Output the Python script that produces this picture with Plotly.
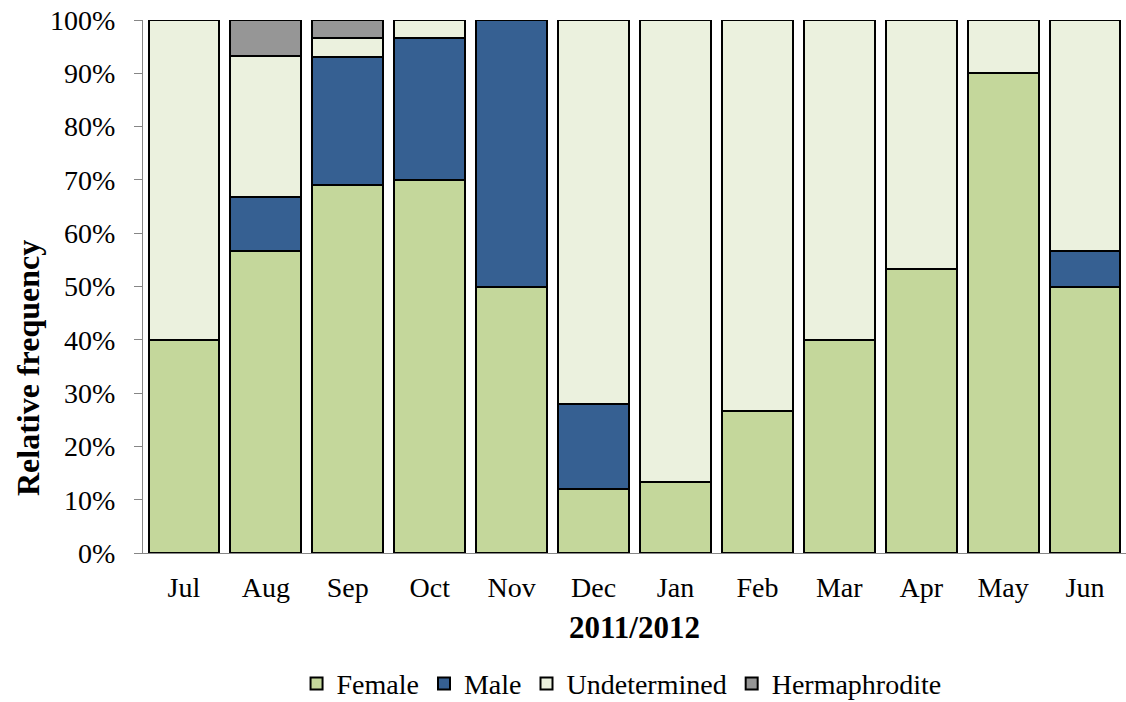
import plotly.graph_objects as go

months = ["Jul", "Aug", "Sep", "Oct", "Nov", "Dec", "Jan", "Feb", "Mar", "Apr", "May", "Jun"]
female = [40.0, 56.7, 69.0, 70.0, 50.0, 12.0, 13.3, 26.7, 40.0, 53.3, 90.0, 50.0]
male = [0.0, 10.0, 24.1, 26.7, 50.0, 16.0, 0.0, 0.0, 0.0, 0.0, 0.0, 6.7]
undetermined = [60.0, 26.6, 3.5, 3.3, 0.0, 72.0, 86.7, 73.3, 60.0, 46.7, 10.0, 43.3]
hermaphrodite = [0.0, 6.7, 3.4, 0.0, 0.0, 0.0, 0.0, 0.0, 0.0, 0.0, 0.0, 0.0]

ytick_vals = [0, 10, 20, 30, 40, 50, 60, 70, 80, 90, 100]
ytick_text = ["0%", "10%", "20%", "30%", "40%", "50%", "60%", "70%", "80%", "90%", "100%"]

series = [
    ("Female", female, "#C4D79B"),
    ("Male", male, "#366092"),
    ("Undetermined", undetermined, "#EBF1DE"),
    ("Hermaphrodite", hermaphrodite, "#969696"),
]

serif = "Liberation Serif"

fig = go.Figure()
for name, vals, color in series:
    fig.add_trace(go.Bar(
        name=name,
        x=months,
        y=vals,
        marker=dict(color=color, line=dict(color="black", width=2)),
    ))

fig.update_layout(
    barmode="stack",
    bargap=0.135,
    width=1126,
    height=702,
    margin=dict(l=143, r=0, t=20, b=149, autoexpand=False),
    paper_bgcolor="white",
    plot_bgcolor="white",
    font=dict(family=serif, size=28, color="black"),
    showlegend=True,
    legend=dict(
        orientation="h",
        traceorder="normal",
        xref="container",
        yref="container",
        x=0.552,
        xanchor="center",
        y=0.026,
        yanchor="middle",
        font=dict(family=serif, size=28, color="black"),
        itemwidth=30,
    ),
    xaxis=dict(
        title=dict(text="<b>2011/2012</b>", font=dict(family=serif, size=31, color="black"), standoff=14),
        showline=True,
        linecolor="#868686",
        linewidth=1,
        ticks="",
        tickfont=dict(family=serif, size=28, color="black"),
        ticklabelstandoff=9,
        automargin=False,
    ),
    yaxis=dict(
        range=[0, 100],
        tickvals=ytick_vals,
        ticktext=ytick_text,
        showgrid=False,
        zeroline=False,
        showline=True,
        linecolor="#868686",
        linewidth=1,
        ticks="outside",
        ticklen=8,
        tickcolor="#868686",
        tickfont=dict(family=serif, size=28, color="black"),
        ticklabelstandoff=13,
        automargin=False,
    ),
    annotations=[
        dict(
            text="<b>Relative frequency</b>",
            textangle=-90,
            xref="paper",
            yref="paper",
            x=-0.117,
            y=0.347,
            xanchor="center",
            yanchor="middle",
            showarrow=False,
            font=dict(family=serif, size=32, color="black"),
        )
    ],
)

fig.write_html("out.html")
